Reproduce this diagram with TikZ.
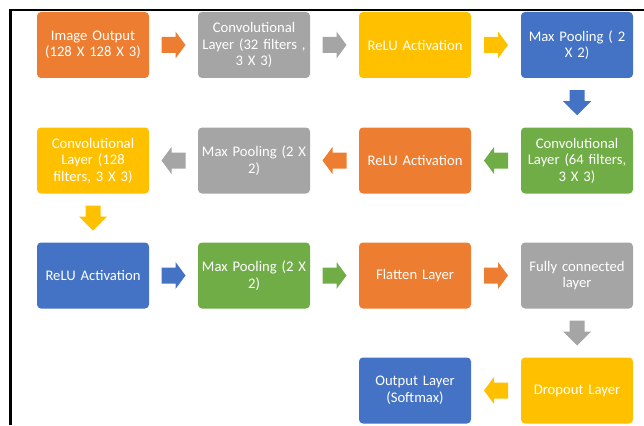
\documentclass[tikz,border=0pt]{standalone}
\usepackage{fontspec}
\setmainfont{Carlito}
\usetikzlibrary{calc}
\definecolor{cOrange}{HTML}{ED7D31}
\definecolor{cGray}{HTML}{A5A5A5}
\definecolor{cYellow}{HTML}{FFC000}
\definecolor{cBlue}{HTML}{4472C4}
\definecolor{cGreen}{HTML}{70AD47}
\tikzset{
  box/.style={rounded corners=4pt, minimum width=112pt, minimum height=66pt,
    text width=106pt, align=center, text=white, inner sep=0pt,
    font=\fontsize{14.67}{16.5}\selectfont},
  harr/.pic={\fill[pic actions] (-12,-8) -- (2,-8) -- (2,-13.5) -- (12,0) -- (2,13.5) -- (2,8) -- (-12,8) -- cycle;},
  varr/.pic={\fill[pic actions] (-7.5,-12.5) -- (7.5,-12.5) -- (7.5,-1.5) -- (14,-1.5) -- (0,12.5) -- (-14,-1.5) -- (-7.5,-1.5) -- cycle;}
}
\begin{document}
\begin{tikzpicture}[x=1pt,y=-1pt]
\useasboundingbox (0,0) rectangle (644,425);
\draw[line width=2.5pt] (10.5,425) -- (10.5,10) -- (644,10);

\node[box, fill=cOrange] (n1) at (93,45) {Image Output\\(128 X 128 X 3)};
\node[box, fill=cGray] (n2) at (254,45) {Convolutional\\Layer (32 filters ,\\3 X 3)};
\node[box, fill=cYellow] (n3) at (415,45) {ReLU Activation};
\node[box, fill=cBlue] (n4) at (577,45) {Max Pooling ( 2\\X 2)};

\node[box, fill=cGreen] (n5) at (577,160.5) {Convolutional\\Layer (64 filters,\\3 X 3)};
\node[box, fill=cOrange] (n6) at (415,160.5) {ReLU Activation};
\node[box, fill=cGray] (n7) at (254,160.5) {Max Pooling (2 X\\2)};
\node[box, fill=cYellow] (n8) at (93,160.5) {Convolutional\\Layer (128\\filters, 3 X 3)};

\node[box, fill=cBlue] (n9) at (93,275.5) {ReLU Activation};
\node[box, fill=cGreen] (n10) at (254,275.5) {Max Pooling (2 X\\2)};
\node[box, fill=cOrange] (n11) at (415,275.5) {Flatten Layer};
\node[box, fill=cGray] (n12) at (577,275.5) {Fully connected\\layer};

\node[box, fill=cYellow] (n13) at (577,390.5) {Dropout Layer};
\node[box, fill=cBlue] (n14) at (415,390.5) {Output Layer\\(Softmax)};

\path ($(n1.east)!0.5!(n2.west)$) pic[fill=cOrange] {harr};
\path ($(n2.east)!0.5!(n3.west)$) pic[fill=cGray] {harr};
\path ($(n3.east)!0.5!(n4.west)$) pic[fill=cYellow] {harr};
\path ($(n4.south)!0.5!(n5.north)$) pic[fill=cBlue] {varr};
\path ($(n5.west)!0.5!(n6.east)$) pic[fill=cGreen, xscale=-1] {harr};
\path ($(n6.west)!0.5!(n7.east)$) pic[fill=cOrange, xscale=-1] {harr};
\path ($(n7.west)!0.5!(n8.east)$) pic[fill=cGray, xscale=-1] {harr};
\path ($(n8.south)!0.5!(n9.north)$) pic[fill=cYellow] {varr};
\path ($(n9.east)!0.5!(n10.west)$) pic[fill=cBlue] {harr};
\path ($(n10.east)!0.5!(n11.west)$) pic[fill=cGreen] {harr};
\path ($(n11.east)!0.5!(n12.west)$) pic[fill=cOrange] {harr};
\path ($(n12.south)!0.5!(n13.north)$) pic[fill=cGray] {varr};
\path ($(n13.west)!0.5!(n14.east)$) pic[fill=cYellow, xscale=-1] {harr};
\end{tikzpicture}
\end{document}
